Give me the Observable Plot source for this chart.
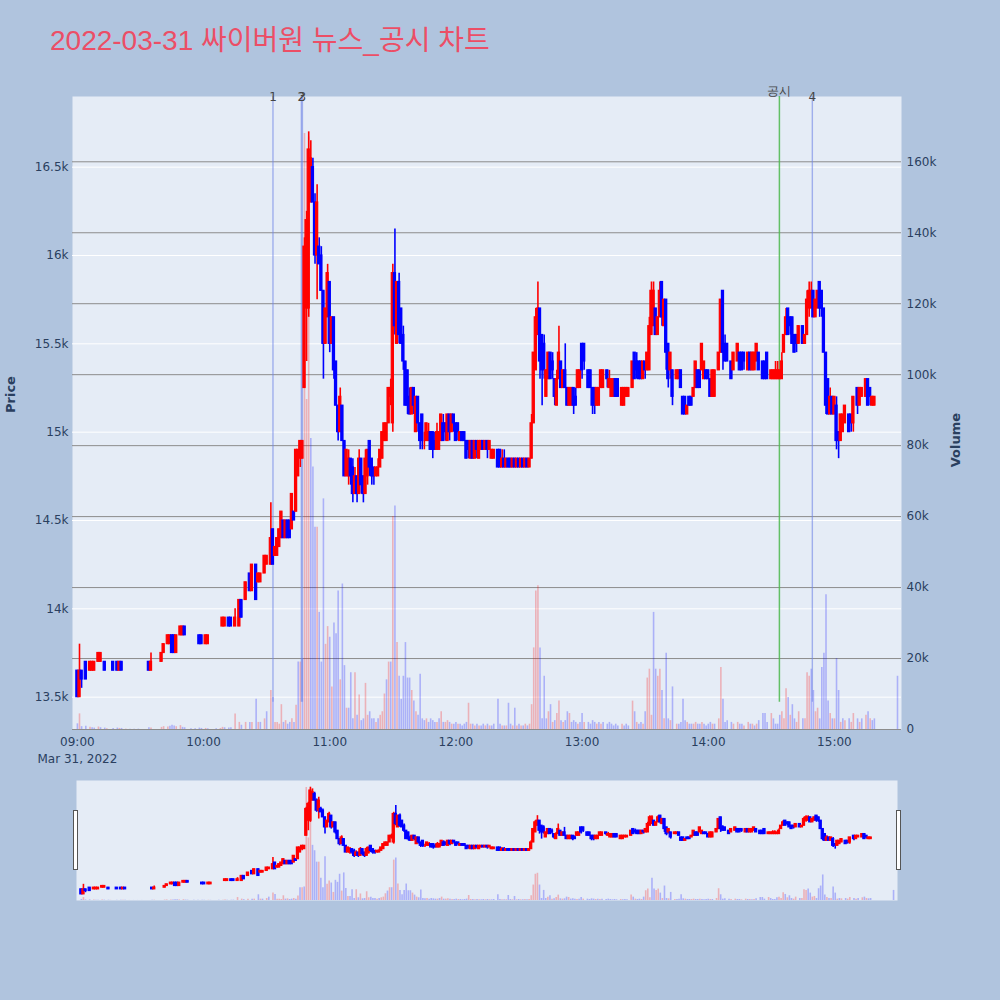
<!DOCTYPE html>
<html><head><meta charset="utf-8">
<script src="https://cdn.jsdelivr.net/npm/d3@7"></script>
<script src="https://cdn.jsdelivr.net/npm/@observablehq/plot@0.6"></script>
<style>
body{margin:0;background:#b0c4de;}
#wrap{position:relative;width:1000px;height:1000px;background:#b0c4de;overflow:hidden;}
#title{position:absolute;left:50px;top:25px;font-family:"Liberation Sans",Arial,"Noto Sans CJK KR",sans-serif;font-size:28px;line-height:32px;color:#ec4e66;white-space:nowrap;}
.layer{position:absolute;left:0;}
.layer svg{display:block;}
.handle{position:absolute;top:810px;width:5px;height:60px;background:#fff;border:1px solid #555;box-sizing:border-box;}
</style></head><body>
<div id="wrap"><div id="title">2022-03-31 싸이버원 뉴스_공시 차트</div></div>
<script>
// [minute after 09:00, open, high, low, close, volume]
const h09 = [
[0,13650,13650,13500,13500,1600],[1,13500,13800,13500,13650,4400],[2,13650,13650,13550,13600,800],
[4,13700,13700,13600,13600,900],[6,13650,13700,13650,13700,600],[7,13650,13700,13650,13700,500],
[8,13650,13700,13650,13700,400],[10,13700,13750,13700,13750,700],[11,13700,13750,13700,13750,500],
[13,13700,13700,13650,13650,400],[14,13700,13700,13700,13700,200],[17,13700,13700,13650,13650,300],
[19,13700,13700,13650,13650,400],[20,13650,13700,13650,13700,300],[21,13700,13700,13650,13650,300],
[23,13700,13700,13700,13700,100],[25,13650,13650,13650,13650,100],[27,13650,13650,13650,13650,100],
[29,13650,13650,13650,13650,100],[34,13700,13700,13650,13650,500],[35,13650,13750,13650,13700,400],
[40,13700,13750,13700,13750,600],[41,13750,13800,13750,13800,800],[43,13800,13850,13800,13850,700],
[44,13800,13850,13800,13850,900],[45,13850,13850,13750,13750,1200],[46,13850,13850,13750,13750,1000],
[47,13750,13850,13750,13850,800],[49,13850,13900,13850,13900,1100],[50,13850,13900,13850,13900,600],
[51,13900,13900,13850,13850,500],[54,13850,13850,13850,13850,200],[56,13850,13850,13850,13850,200],
[58,13850,13850,13800,13800,400],[59,13850,13850,13800,13800,300]
];
const h10 = [
[61,13800,13850,13800,13850,300],[62,13800,13850,13800,13850,200],[66,13850,13850,13850,13850,200],
[68,13900,13900,13900,13900,300],[69,13900,13950,13900,13950,600],[70,13900,13950,13900,13950,500],
[72,13950,13950,13900,13900,400],[73,13950,13950,13900,13900,500],[75,13900,14000,13900,13950,4400],
[77,13900,14050,13900,14050,2000],[78,14050,14050,13950,13950,1200],[80,14050,14150,14050,14150,2000],
[82,14200,14200,14100,14100,2000],[83,14100,14250,14100,14250,2000],[85,14250,14250,14050,14050,8500],
[86,14150,14200,14150,14200,2000],[87,14150,14200,14150,14200,2000],[89,14200,14300,14200,14300,3000],
[90,14250,14300,14250,14300,5000],[92,14250,14600,14250,14400,11000],[93,14450,14450,14250,14250,9000],
[94,14300,14350,14300,14350,2000],[95,14300,14400,14300,14400,2000],[96,14350,14450,14350,14450,1500],
[97,14400,14550,14400,14550,7000],[98,14500,14500,14400,14400,2000],[99,14400,14500,14400,14500,2500],
[100,14500,14500,14400,14400,1500],[101,14500,14500,14400,14400,2000],[102,14450,14650,14450,14650,3000],
[103,14550,14550,14500,14500,2000],[104,14550,14900,14550,14900,6800],[105,14750,14900,14750,14900,19000],
[106,14850,14950,14800,14950,19000],[107,14850,14950,14850,14950,20000],[108,15250,16100,15250,16050,168000],
[109,15700,16250,15400,16200,93000],[110,15700,16700,15650,16600,167000],[111,16300,16650,16300,16550,82000],
[112,16500,16550,16300,16300,74000],[113,16300,16350,15950,16000,57000],[114,16000,16400,15750,16300,57000],
[115,16050,16100,15950,15950,33000],[116,16000,16050,15800,15800,19000],[117,15800,15800,15300,15500,65000],
[118,15500,15700,15500,15700,24000],[119,15650,15950,15650,15900,29000]
];
const h11 = [
[120,15850,15850,15450,15500,26000],[121,15500,15650,15500,15650,12000],[122,15650,15650,15300,15350,30000],
[123,15400,15400,15150,15150,27000],[124,15150,15150,14950,15000,39000],[125,15000,15250,15000,15200,14000],
[126,15150,15150,14950,14950,41000],[127,14950,14950,14750,14750,18000],[128,14750,14900,14750,14900,6000],
[129,14750,14900,14700,14850,6000],[130,14850,14850,14700,14750,16000],[131,14800,14850,14600,14650,3000],
[132,14650,14800,14650,14750,16000],[133,14750,14750,14600,14650,4000],[134,14650,14900,14650,14850,9700],
[135,14850,14850,14650,14700,2500],[136,14750,14750,14600,14650,3000],[137,14650,14900,14650,14850,13000],
[138,14750,14900,14700,14900,4000],[139,14950,14950,14750,14800,5000],[140,14850,14850,14700,14750,3000],
[141,14800,14800,14700,14750,3000],[142,14750,14800,14750,14800,2000],[143,14750,14850,14750,14800,3000],
[144,14800,14900,14800,14900,4000],[145,14850,15000,14850,15000,5000],[146,14950,15050,14950,15050,10000],
[147,14950,15050,14950,15050,14000],[148,15050,15250,15050,15250,19000],[149,15200,15300,15150,15250,19000],
[150,15050,15950,15000,15900,60000],[151,15900,16150,15550,15600,63000],[152,15500,15850,15500,15850,24500],
[153,15850,15900,15500,15550,15000],[154,15700,15700,15500,15500,8500],[155,15550,15600,15350,15400,15000],
[156,15400,15400,15150,15150,24500],[157,15350,15350,15100,15150,14500],[158,15200,15250,15100,15100,14500],
[159,15100,15250,15100,15250,11000],[160,15250,15250,15100,15150,8000],[161,15000,15200,15000,15200,5000],
[162,15200,15200,15000,15050,4000],[163,15050,15050,14900,14950,15600],[164,15100,15100,14900,14950,3000],
[165,14950,15000,14900,14950,2500],[166,14950,15050,14950,15050,3000],[167,14950,15050,14950,15000,2000],
[168,15000,15000,14900,14900,3000],[169,15000,15000,14850,14900,2500],[170,14950,15000,14900,14900,2000],
[171,14900,15050,14900,15000,2000],[172,14900,15000,14900,15000,3000],[173,14950,15100,14950,15100,5000],
[174,15050,15100,14950,14950,2000],[175,15050,15050,14950,15000,2000],[176,14950,15100,14950,15100,2500],
[177,15100,15100,14950,15000,2000],[178,15000,15100,15000,15100,1500],[179,15100,15100,15000,15050,1500]
];
const h12 = [
[180,15050,15050,14950,14950,2000],[181,15050,15050,14950,15000,1500],[182,14950,15000,14950,15000,1500],
[183,15000,15000,14950,14950,1000],[184,15000,15000,14950,14950,1500],[185,14950,14950,14850,14850,2000],
[186,14950,14950,14850,14900,7400],[187,14850,14950,14850,14950,1500],[188,14950,14950,14850,14850,1500],
[189,14850,14950,14850,14950,1000],[190,14950,14950,14850,14900,1500],[191,14850,14950,14850,14950,1000],
[192,14900,14950,14900,14950,1000],[193,14950,14950,14900,14900,1500],[194,14900,14950,14900,14950,1000],
[195,14950,14950,14850,14900,1500],[196,14900,14950,14900,14950,1000],[197,14850,14900,14850,14900,1000],
[198,14850,14900,14850,14900,1500],[200,14900,14900,14800,14800,8500],[201,14900,14900,14800,14800,1500],
[202,14800,14900,14800,14850,1000],[203,14850,14900,14800,14800,1000],[204,14800,14850,14800,14850,1000],
[205,14850,14850,14800,14800,7400],[206,14850,14850,14800,14800,1500],[207,14800,14850,14800,14850,1000],
[208,14850,14850,14800,14800,6000],[209,14800,14850,14800,14850,1000],[210,14850,14850,14800,14800,1500],
[211,14800,14850,14800,14850,1000],[212,14850,14850,14800,14800,1000],[213,14800,14850,14800,14850,1500],
[214,14850,14850,14800,14800,1000],[215,14800,14850,14800,14850,1500],[216,14850,15100,14850,15050,7000],
[217,15050,15450,15050,15450,23000],[218,15350,15700,15350,15650,39000],[219,15550,15850,15550,15700,40500],
[220,15700,15700,15300,15400,23000],[221,15550,15550,15150,15350,3000],[222,15500,15550,15300,15350,15000],
[223,15200,15350,15200,15350,3000],[224,15300,15450,15300,15450,5000],[225,15450,15450,15300,15300,7000],
[226,15400,15450,15300,15350,2000],[227,15300,15300,15150,15200,2500],[228,15150,15350,15150,15300,4500],
[229,15300,15600,15300,15450,8000],[230,15400,15400,15250,15250,2500],[231,15250,15350,15250,15350,2000],
[232,15350,15500,15250,15250,2500],[233,15250,15250,15150,15150,5000],[234,15150,15250,15150,15250,4500],
[235,15150,15250,15150,15250,2000],[236,15250,15250,15100,15150,2500],[237,15200,15250,15150,15150,2000],
[238,15250,15350,15250,15350,1500],[239,15250,15350,15250,15350,2000]
];
const h13 = [
[240,15500,15500,15300,15350,4500],[241,15500,15500,15350,15400,2000],[243,15350,15350,15250,15250,2000],
[244,15350,15350,15250,15250,1500],[245,15250,15250,15100,15150,2500],[246,15250,15250,15100,15150,2000],
[247,15150,15250,15150,15250,1500],[248,15150,15250,15150,15250,2000],[249,15250,15350,15250,15350,1500],
[250,15250,15350,15250,15350,2000],[252,15350,15350,15250,15300,1500],[253,15250,15350,15250,15300,2000],
[254,15200,15300,15200,15300,1500],[255,15200,15300,15200,15300,1000],[256,15300,15300,15200,15200,1500],
[257,15300,15300,15200,15200,1000],[259,15150,15250,15150,15250,1500],[260,15150,15250,15150,15250,1000],
[261,15200,15250,15200,15250,1500],[262,15200,15250,15200,15250,1000],[264,15250,15400,15250,15400,8000],
[265,15450,15450,15300,15300,5000],[266,15400,15450,15300,15350,2000],[267,15400,15400,15300,15300,1500],
[268,15400,15400,15300,15300,2000],[269,15300,15400,15300,15400,1500],[270,15400,15400,15300,15350,5000],
[271,15350,15450,15350,15450,14500],[272,15350,15650,15350,15600,17000],[273,15550,15850,15550,15800,4000],
[274,15600,15850,15600,15800,33000],[275,15700,15700,15550,15550,17000],[276,15550,15650,15550,15650,15000],
[277,15650,15850,15650,15800,17000],[278,15850,15850,15600,15650,11000],[279,15600,15750,15600,15750,3000],
[280,15750,15750,15350,15450,21500],[281,15500,15500,15250,15300,3000],[282,15350,15450,15300,15450,2500],
[283,15350,15350,15150,15200,12000],[285,15300,15350,15300,15350,1500],[286,15300,15350,15300,15350,1500],
[287,15350,15350,15250,15250,2000],[288,15200,15200,15100,15100,8500],[289,15200,15200,15100,15100,2500],
[290,15100,15150,15100,15150,2000],[291,15200,15200,15150,15150,1500],[292,15200,15200,15150,15150,1500],
[293,15200,15250,15200,15250,1500],[294,15250,15400,15250,15400,2000],[295,15350,15350,15250,15250,1500],
[296,15350,15350,15250,15250,1500],[297,15350,15500,15350,15500,2000],[298,15300,15400,15300,15400,1500],
[299,15350,15350,15300,15300,1000]
];
const h14 = [
[300,15350,15350,15300,15300,1500],[301,15300,15300,15200,15200,2000],[302,15200,15350,15200,15350,1500],
[303,15200,15350,15200,15350,1500],[305,15350,15450,15350,15450,3000],[306,15450,15750,15450,15750,17500],
[307,15800,15800,15350,15450,8500],[308,15500,15550,15400,15400,2000],[309,15500,15500,15400,15400,2500],
[311,15400,15400,15300,15300,2000],[312,15350,15450,15350,15450,1500],[314,15400,15500,15400,15500,2000],
[315,15450,15450,15350,15350,1500],[316,15450,15450,15350,15350,1500],[317,15450,15450,15350,15400,1000],
[319,15350,15450,15350,15450,2000],[320,15450,15450,15350,15350,1500],[321,15350,15450,15350,15450,1500],
[322,15350,15450,15350,15450,1000],[323,15400,15500,15400,15500,1500],[324,15450,15450,15350,15350,2500],
[326,15400,15400,15300,15300,4500],[327,15400,15400,15300,15300,4500],[328,15450,15450,15300,15300,2000],
[330,15300,15350,15300,15350,4500],[331,15300,15350,15300,15350,3000],[332,15300,15400,15300,15350,1500],
[333,15300,15400,15300,15350,1500],[334,15300,15350,15300,15350,4000],[335,15300,15450,15300,15400,5000],
[336,15450,15550,15450,15550,3000],[337,15550,15700,15550,15650,11500],[338,15700,15700,15550,15550,9000],
[339,15650,15650,15550,15600,4000],[340,15650,15650,15500,15500,7000],[341,15550,15550,15450,15450,3000],
[342,15550,15550,15450,15500,2000],[343,15500,15600,15500,15600,5000],[345,15600,15600,15500,15500,3000],
[346,15500,15550,15500,15550,3000],[347,15550,15800,15550,15750,16000],[348,15700,15850,15650,15800,15000],
[349,15700,15850,15700,15800,17000],[350,15800,15800,15650,15650,11000],[351,15650,15750,15650,15750,5000],
[352,15700,15800,15700,15800,6000],[353,15850,15850,15650,15700,3000],[354,15800,15800,15650,15700,17500],
[355,15700,15700,15450,15450,21500],[356,15450,15450,15100,15150,38000],[357,15300,15300,15100,15100,8000],
[358,15100,15250,15100,15200,4500],[359,15200,15200,15100,15100,3000]
];
const h15 = [
[360,15100,15200,15100,15200,3000],[361,15150,15200,14900,14950,20000],[362,15000,15000,14850,14950,11000],
[363,14950,15100,14950,15100,2000],[364,15000,15100,15000,15100,3000],[365,15050,15150,15050,15150,2500],
[367,15100,15100,15000,15000,3000],[368,15100,15100,15000,15050,2000],[369,15050,15200,15000,15200,4500],
[371,15250,15250,15100,15150,3000],[372,15150,15250,15150,15250,2000],[373,15200,15250,15200,15250,3000],
[375,15200,15300,15200,15300,4000],[376,15300,15300,15150,15150,5000],[377,15250,15250,15150,15200,3000],
[378,15150,15200,15150,15200,2500],[379,15150,15200,15150,15200,3000],[390,15200,15200,15200,15200,15000]
];

const priceTicks = [13500,14000,14500,15000,15500,16000,16500];
const volumeTicks = [0,20000,40000,60000,80000,100000,120000,140000,160000];
const timeTicks = ["09:00","10:00","11:00","12:00","13:00","14:00","15:00"];
const eventTimes = ["10:33:00","10:46:30","10:47:00","14:33:50","14:49:30"];
const eventLabels = ["1","2","3","공시","4"];
const eventKinds = ["news","news","news","disclosure","news"];

const priceDomain = [13317, 16900];
const volumeDomain = [0, 178400];
const base = Date.UTC(2022,2,31,9,0,0);
const atMin = m => new Date(base + m*60000);
const atHMS = s => { const [h,m,sec] = s.split(":").map(Number); return new Date(Date.UTC(2022,2,31,h,m,sec||0)); };
const xDomain = [atMin(-2.33), atMin(391.9)];

const rows = [...h09,...h10,...h11,...h12,...h13,...h14,...h15];
const candles = rows.map((r,i) => {
  const [m,o,h,l,c,v] = r;
  const pc = i>0 ? rows[i-1][4] : o;
  const up = c>o ? true : c<o ? false : c>=pc;
  const volUp = i>0 ? c>pc : c>=o;
  return {date: atMin(m), open:o, high:h, low:l, close:c, volume:v,
    color: up ? "#ff0000" : "#0000ff", vcolor: volUp ? "#ff0000" : "#0000ff"};
});
const events = eventTimes.map((t,i)=>({date: atHMS(t), label: eventLabels[i], kind: eventKinds[i]}));
const tickDates = timeTicks.map(t => atHMS(t));

const FONT = '"DejaVu Sans", Verdana, sans-serif';
const style = {background:"transparent", fontFamily:FONT, fontSize:"12px", color:"#2a3f5f", overflow:"visible"};
const main = {width:1000, height:770, marginLeft:72, marginRight:99, marginTop:96, marginBottom:41, style};

const candleMarks = [
  Plot.ruleX(candles, {x:"date", y1:"low", y2:"high", stroke:"color", strokeWidth:1.6}),
  Plot.rect(candles, {x1: d=>new Date(+d.date-30000), x2: d=>new Date(+d.date+30000),
    y1: d=>Math.min(d.open,d.close), y2: d=>Math.max(d.open,d.close), fill:"color", stroke:"color", strokeWidth:1.2})
];

const wrap = document.getElementById("wrap");
function addLayer(svg, top){ const d=document.createElement("div"); d.className="layer"; d.style.top=top+"px"; d.appendChild(svg); wrap.appendChild(d); }

// Layer A: background, price grid, price axis, time axis
addLayer(Plot.plot({...main,
  x:{type:"utc", domain:xDomain},
  y:{domain:priceDomain},
  marks:[
    Plot.frame({fill:"#e5ecf6", stroke:"none"}),
    Plot.gridY(priceTicks, {stroke:"#ffffff", strokeOpacity:1, strokeWidth:1}),
    Plot.axisY({ticks:priceTicks, tickFormat:d=>d/1000+"k", tickSize:0, tickPadding:4, label:null, fill:"#2a3f5f"}),
    Plot.axisX({ticks:tickDates, tickFormat:d3.utcFormat("%H:%M"), tickSize:0, tickPadding:8, label:null, fill:"#2a3f5f"}),
    Plot.text(["Mar 31, 2022"], {x:[tickDates[0]], frameAnchor:"bottom", dy:33, fill:"#2a3f5f"}),
    Plot.text(["Price"], {frameAnchor:"left", dx:-62, rotate:-90, fontWeight:"bold", fontSize:13, fill:"#2a3f5f"})
  ]}), 0);

// Layer B: volume grid, volume bars, volume axis
addLayer(Plot.plot({...main,
  x:{type:"utc", domain:xDomain, axis:null},
  y:{domain:volumeDomain},
  color:{type:"identity"},
  marks:[
    Plot.gridY(volumeTicks, {stroke:"#8c8c8c", strokeOpacity:1, strokeWidth:1}),
    Plot.ruleX(candles, {x:"date", y1:0, y2:"volume", stroke:"vcolor", strokeOpacity:0.25, strokeWidth:1.6}),
    Plot.axisY({anchor:"right", ticks:volumeTicks, tickFormat:d=>d===0?"0":d/1000+"k", tickSize:0, tickPadding:5, label:null, fill:"#2a3f5f"}),
    Plot.text(["Volume"], {frameAnchor:"right", dx:54, rotate:-90, fontWeight:"bold", fontSize:13, fill:"#2a3f5f"})
  ]}), 0);

// Layer C: event lines and candles
addLayer(Plot.plot({...main,
  x:{type:"utc", domain:xDomain, axis:null},
  y:{domain:priceDomain, axis:null},
  color:{type:"identity"},
  marks:[
    Plot.ruleX(events.filter(e=>e.kind==="news"), {x:"date", y1:priceTicks[0], y2:priceDomain[1], stroke:"#6f86e6", strokeOpacity:0.6, strokeWidth:1.4, insetTop:5}),
    Plot.ruleX(events.filter(e=>e.kind==="disclosure"), {x:"date", y1:priceTicks[0], y2:priceDomain[1], stroke:"#4cb84c", strokeOpacity:0.85, strokeWidth:1.5, insetTop:5}),
    Plot.text(events.filter(e=>e.kind==="news"), {x:"date", text:"label", frameAnchor:"top", dy:-4, fill:"#444", fontSize:12}),
    Plot.text(events.filter(e=>e.kind==="disclosure"), {x:"date", text:"label", frameAnchor:"top", dy:-10, fill:"#444", fontSize:12}),
    ...candleMarks
  ]}), 0);

// Range slider
const slider = {width:1000, height:120, marginLeft:76, marginRight:103, marginTop:0, marginBottom:0, style};
addLayer(Plot.plot({...slider,
  x:{type:"utc", domain:xDomain, axis:null},
  y:{domain:volumeDomain, axis:null},
  color:{type:"identity"},
  marks:[
    Plot.frame({fill:"#e5ecf6", stroke:"none"}),
    Plot.ruleX(candles, {x:"date", y1:0, y2:"volume", stroke:"vcolor", strokeOpacity:0.25, strokeWidth:1.6})
  ]}), 780);
addLayer(Plot.plot({...slider,
  x:{type:"utc", domain:xDomain, axis:null},
  y:{domain:priceDomain, axis:null},
  color:{type:"identity"},
  marks:candleMarks}), 780);

for (const left of [73, 896]) { const h=document.createElement("div"); h.className="handle"; h.style.left=left+"px"; wrap.appendChild(h); }
</script>
</body></html>
